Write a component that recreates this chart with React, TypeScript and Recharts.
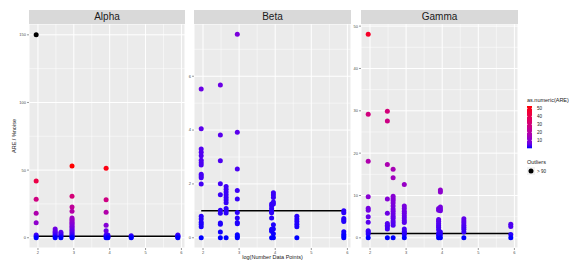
import React from 'react'
import {
  ScatterChart, Scatter, XAxis, YAxis, CartesianGrid, ReferenceLine,
} from 'recharts'

// x positions shared by all facets: log(number of data points)
const xLevels = [1.95, 2.48, 2.64, 2.95, 3.9, 3.95, 4.6, 5.9]

// ARE values per x level, one list per column of points
const alphaCols = [
  [42, 28.5, 18, 11, 2, 1, 0],
  [6.5, 5, 4, 3, 2, 1, 0],
  [4, 3, 2, 1, 0],
  [53, 30.6, 22.7, 19.5, 14.5, 13.5, 12.5, 11.5, 10.5, 9.5, 8.5, 7.5, 6.5, 5.5, 4.5, 3.5, 2.5, 1.5, 0.5, 0],
  [51.3, 28.1, 18.8, 9.2, 5.2, 2, 1, 0],
  [2, 1, 0.5, 0],
  [1.5, 0.5, 0],
  [2, 1.5, 1, 0.5, 0],
]
const alphaOutliers = [{ x: 1.95, y: 150 }]

const betaCols = [
  [5.53, 4.05, 3.3, 3.18, 3.05, 2.88, 2.79, 2.7, 2.36, 2.29, 2.23, 2.0, 0.8, 0.7, 0.58, 0.5, 0.41, 0],
  [5.67, 3.82, 2.86, 2.01, 1.6, 1.02, 0.91, 0.55, 0.5, 0.21, 0],
  [1.9, 1.8, 1.7, 1.6, 1.5, 1.4, 1.3, 1.09, 1.0, 0.92, 0],
  [7.56, 3.92, 2.55, 1.76, 1.44, 0.94, 0.73, 0.57, 0.52, 0.11, 0.05, 0],
  [1.25, 1.18, 1.08, 0.98, 0.93, 0.73, 0.32, 0.24, 0],
  [1.67, 1.59, 1.5, 1.33, 1.25, 0.48, 0.33, 0.15, 0],
  [0.8, 0.7, 0.6, 0.5, 0.41, 0],
  [1.0, 0.93, 0.72, 0.66, 0.6, 0.22, 0.13, 0.07, 0],
]

const gammaCols = [
  [48.1, 29.2, 18.1, 9.7, 7.0, 6.5, 5.0, 3.7, 1.7, 1.35, 0.9, 0],
  [29.9, 27.6, 17.3, 9.2, 5.8, 3.4, 3.0, 2.6, 2.1, 0],
  [16.2, 14.2, 9.85, 9.3, 8.8, 8.2, 7.5, 6.8, 6.3, 5.7, 5.1, 4.6, 4.0, 3.5, 3.0, 0],
  [12.6, 7.5, 6.9, 6.3, 5.8, 5.2, 4.7, 4.1, 3.6, 2.1, 1.55, 1.2, 0.8, 0],
  [6.9, 6.5, 4.35, 3.9, 3.4, 2.9, 2.5, 1.9, 1.1, 0.6, 0],
  [11.3, 10.8, 7.3, 6.8, 6.4, 1.4, 0.7, 0],
  [4.5, 4.0, 3.5, 3.0, 2.5, 2.0, 1.4, 0],
  [3.2, 2.7, 0.8, 0],
]

const xTicks = [2, 3, 4, 5, 6]
const xMinor = [2.5, 3.5, 4.5, 5.5]
const refLevel = 1
const legendTicks = [10, 20, 30, 40, 50]

const FONT = '"Liberation Sans", Arial, sans-serif'

// --- colour scale (ggplot-style gradient blue -> red in Lab space)
const toLin = (c: number) => {
  c /= 255
  return c <= 0.04045 ? c / 12.92 : Math.pow((c + 0.055) / 1.055, 2.4)
}
const fromLin = (c: number) => {
  c = Math.max(0, Math.min(1, c))
  const v = c <= 0.0031308 ? 12.92 * c : 1.055 * Math.pow(c, 1 / 2.4) - 0.055
  return Math.round(v * 255)
}
function rgbToLab([r, g, b]: number[]) {
  const R = toLin(r), G = toLin(g), B = toLin(b)
  const X = (0.4124 * R + 0.3576 * G + 0.1805 * B) / 0.95047
  const Y = 0.2126 * R + 0.7152 * G + 0.0722 * B
  const Z = (0.0193 * R + 0.1192 * G + 0.9505 * B) / 1.08883
  const f = (t: number) => (t > 0.008856 ? Math.cbrt(t) : 7.787 * t + 16 / 116)
  const fx = f(X), fy = f(Y), fz = f(Z)
  return [116 * fy - 16, 500 * (fx - fy), 200 * (fy - fz)]
}
function labToHex([L, a, b]: number[]) {
  const fy = (L + 16) / 116
  const fx = fy + a / 500
  const fz = fy - b / 200
  const inv = (t: number) => (t * t * t > 0.008856 ? t * t * t : (t - 16 / 116) / 7.787)
  const X = inv(fx) * 0.95047, Y = inv(fy), Z = inv(fz) * 1.08883
  const R = 3.2406 * X - 1.5372 * Y - 0.4986 * Z
  const G = -0.9689 * X + 1.8758 * Y + 0.0415 * Z
  const B = 0.0557 * X - 0.204 * Y + 1.057 * Z
  return '#' + [R, G, B].map(c => fromLin(c).toString(16).padStart(2, '0')).join('')
}
const lowLab = rgbToLab([0, 0, 255])
const highLab = rgbToLab([255, 0, 0])

const allValues = [...alphaCols, ...betaCols, ...gammaCols].flat()
const colorMin = Math.min(...allValues)
const colorMax = Math.max(...allValues)

function colorFor(v: number) {
  const t = Math.max(0, Math.min(1, (v - colorMin) / (colorMax - colorMin)))
  return labToHex(lowLab.map((l, i) => l + (highLab[i] - l) * t))
}

const toPoints = (cols: number[][]) =>
  cols.flatMap((vals, i) => vals.map(y => ({ x: xLevels[i], y })))

const tickStyle = { fill: '#4D4D4D', fontSize: 4, fontFamily: FONT }

type PanelProps = {
  title: string
  cols: number[][]
  outliers?: { x: number; y: number }[]
  yDomain: [number, number]
  yTicks: number[]
  yMinor: number[]
  left: number
  yAxisWidth: number
  plotWidth: number
}

function Panel({ title, cols, outliers, yDomain, yTicks, yMinor, left, yAxisWidth, plotWidth }: PanelProps) {
  const points = toPoints(cols)
  const lineStart = Math.min(...xLevels)
  const lineEnd = Math.max(...xLevels)
  return (
    <>
      <div
        style={{
          position: 'absolute', left: left + yAxisWidth, top: 10, width: plotWidth, height: 14,
          background: '#D9D9D9', color: '#1A1A1A', fontSize: 10, lineHeight: '14px',
          textAlign: 'center', fontFamily: FONT,
        }}
      >
        {title}
      </div>
      <div style={{ position: 'absolute', left, top: 24 }}>
        <ScatterChart
          width={yAxisWidth + plotWidth + 1}
          height={236}
          margin={{ top: 0, right: 1, bottom: 0, left: 0 }}
        >
          <CartesianGrid fill="#EBEBEB" stroke="#FFFFFF" strokeWidth={1} />
          {xMinor.map(v => (
            <ReferenceLine key={'xm' + v} x={v} stroke="#FFFFFF" strokeWidth={0.5} />
          ))}
          {yMinor.map(v => (
            <ReferenceLine key={'ym' + v} y={v} stroke="#FFFFFF" strokeWidth={0.5} />
          ))}
          <XAxis
            type="number"
            dataKey="x"
            domain={[1.75, 6.1]}
            ticks={xTicks}
            allowDataOverflow
            axisLine={false}
            tickSize={2}
            tickMargin={1}
            tickLine={{ stroke: '#333333', strokeWidth: 0.5 }}
            tick={tickStyle}
            height={12}
          />
          <YAxis
            type="number"
            dataKey="y"
            domain={yDomain}
            ticks={yTicks}
            allowDataOverflow
            axisLine={false}
            tickSize={2}
            tickMargin={1}
            tickLine={{ stroke: '#333333', strokeWidth: 0.5 }}
            tick={tickStyle}
            width={yAxisWidth}
          />
          <Scatter
            data={points}
            isAnimationActive={false}
            shape={(p: any) => (
              <circle cx={p.cx} cy={p.cy} r={2.5} fill={colorFor(p.payload.y)} />
            )}
          />
          {outliers && (
            <Scatter
              data={outliers}
              isAnimationActive={false}
              shape={(p: any) => <circle cx={p.cx} cy={p.cy} r={2.5} fill="#000000" />}
            />
          )}
          <ReferenceLine
            segment={[{ x: lineStart, y: refLevel }, { x: lineEnd, y: refLevel }]}
            stroke="#000000"
            strokeWidth={1.5}
          />
        </ScatterChart>
      </div>
    </>
  )
}

function ColorLegend() {
  const barTop = 11
  const barH = 42.3
  const barX = 7
  const yFor = (v: number) => barTop + barH - ((v - colorMin) / (colorMax - colorMin)) * barH
  const stops = Array.from({ length: 11 }, (_, i) => i / 10)
  return (
    <svg
      width={61}
      height={85}
      style={{ position: 'absolute', left: 520, top: 95, fontFamily: FONT }}
    >
      <defs>
        <linearGradient id="areGrad" x1="0" y1="1" x2="0" y2="0">
          {stops.map(t => (
            <stop key={t} offset={t} stopColor={colorFor(colorMin + t * (colorMax - colorMin))} />
          ))}
        </linearGradient>
      </defs>
      <text x={barX} y={7} fontSize={5.5} fill="#1A1A1A">as.numeric(ARE)</text>
      <rect x={barX} y={barTop} width={5} height={barH} fill="url(#areGrad)" />
      {legendTicks.map(v => (
        <g key={v}>
          <line x1={barX} x2={barX + 1} y1={yFor(v)} y2={yFor(v)} stroke="#FFFFFF" strokeWidth={0.5} />
          <line x1={barX + 4} x2={barX + 5} y1={yFor(v)} y2={yFor(v)} stroke="#FFFFFF" strokeWidth={0.5} />
          <text x={barX + 10} y={yFor(v) + 1.5} fontSize={4.5} fill="#1A1A1A">{v}</text>
        </g>
      ))}
      <text x={barX} y={69} fontSize={5.5} fill="#1A1A1A">Outliers</text>
      <rect x={barX} y={72} width={8} height={8} fill="#F2F2F2" />
      <circle cx={barX + 4} cy={76} r={2.5} fill="#000000" />
      <text x={barX + 10} y={77.5} fontSize={4.5} fill="#1A1A1A">{'> 90'}</text>
    </svg>
  )
}

export default function App() {
  return (
    <div style={{ position: 'absolute', left: 0, top: 0, width: 581, height: 269, background: '#FFFFFF', fontFamily: FONT }}>
      <Panel
        title="Alpha"
        cols={alphaCols}
        outliers={alphaOutliers}
        yDomain={[-7.6, 158]}
        yTicks={[0, 50, 100, 150]}
        yMinor={[25, 75, 125]}
        left={0}
        yAxisWidth={29}
        plotWidth={156}
      />
      <Panel
        title="Beta"
        cols={betaCols}
        yDomain={[-0.38, 7.94]}
        yTicks={[0, 2, 4, 6]}
        yMinor={[1, 3, 5, 7]}
        left={182}
        yAxisWidth={12}
        plotWidth={157}
      />
      <Panel
        title="Gamma"
        cols={gammaCols}
        yDomain={[-2.4, 50.5]}
        yTicks={[0, 10, 20, 30, 40, 50]}
        yMinor={[5, 15, 25, 35, 45]}
        left={349}
        yAxisWidth={12}
        plotWidth={157}
      />
      <div
        style={{
          position: 'absolute', left: 194, top: 254, width: 157, textAlign: 'center',
          fontSize: 5.5, color: '#1A1A1A', fontFamily: FONT,
        }}
      >
        log(Number Data Points)
      </div>
      <div
        style={{
          position: 'absolute', left: 14 - 40, top: 133, width: 80, textAlign: 'center',
          fontSize: 5.5, color: '#1A1A1A', transform: 'rotate(-90deg)', fontFamily: FONT,
        }}
      >
        ARE / %noise
      </div>
      <ColorLegend />
    </div>
  )
}
